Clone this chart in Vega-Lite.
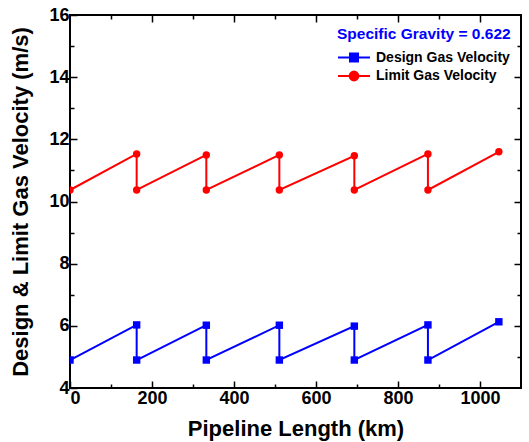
{
  "$schema": "https://vega.github.io/schema/vega-lite/v6.json",
  "width": 451,
  "height": 373,
  "autosize": {"type": "none"},
  "padding": {"left": 70, "top": 15, "right": 8, "bottom": 54},
  "background": "white",
  "data": {
    "values": [
      {"series": "Design Gas Velocity", "km": 0, "v": 4.9, "order": 0},
      {"series": "Design Gas Velocity", "km": 162.6, "v": 6.03, "order": 1},
      {"series": "Design Gas Velocity", "km": 162.6, "v": 4.9, "order": 2},
      {"series": "Design Gas Velocity", "km": 332.5, "v": 6.02, "order": 3},
      {"series": "Design Gas Velocity", "km": 332.5, "v": 4.9, "order": 4},
      {"series": "Design Gas Velocity", "km": 510.6, "v": 6.02, "order": 5},
      {"series": "Design Gas Velocity", "km": 510.6, "v": 4.9, "order": 6},
      {"series": "Design Gas Velocity", "km": 693.5, "v": 5.99, "order": 7},
      {"series": "Design Gas Velocity", "km": 693.5, "v": 4.9, "order": 8},
      {"series": "Design Gas Velocity", "km": 873, "v": 6.03, "order": 9},
      {"series": "Design Gas Velocity", "km": 873, "v": 4.9, "order": 10},
      {"series": "Design Gas Velocity", "km": 1046, "v": 6.13, "order": 11},
      {"series": "Limit Gas Velocity", "km": 0, "v": 10.37, "order": 0},
      {"series": "Limit Gas Velocity", "km": 162.6, "v": 11.53, "order": 1},
      {"series": "Limit Gas Velocity", "km": 162.6, "v": 10.37, "order": 2},
      {"series": "Limit Gas Velocity", "km": 332.5, "v": 11.5, "order": 3},
      {"series": "Limit Gas Velocity", "km": 332.5, "v": 10.37, "order": 4},
      {"series": "Limit Gas Velocity", "km": 510.6, "v": 11.5, "order": 5},
      {"series": "Limit Gas Velocity", "km": 510.6, "v": 10.37, "order": 6},
      {"series": "Limit Gas Velocity", "km": 693.5, "v": 11.47, "order": 7},
      {"series": "Limit Gas Velocity", "km": 693.5, "v": 10.37, "order": 8},
      {"series": "Limit Gas Velocity", "km": 873, "v": 11.53, "order": 9},
      {"series": "Limit Gas Velocity", "km": 873, "v": 10.37, "order": 10},
      {"series": "Limit Gas Velocity", "km": 1046, "v": 11.6, "order": 11}
    ]
  },
  "layer": [
    {
      "mark": {"type": "line", "strokeWidth": 2, "clip": true},
      "encoding": {
        "x": {"field": "km", "type": "quantitative", "scale": {"domain": [0, 1100], "nice": false, "zero": false},
              "axis": {"orient": "bottom", "title": "Pipeline Length (km)", "format": "d", "values": [0, 200, 400, 600, 800, 1000], "tickSize": -7, "labelPadding": 8, "titlePadding": 11}},
        "y": {"field": "v", "type": "quantitative", "scale": {"domain": [4, 16], "nice": false, "zero": false},
              "axis": {"orient": "left", "title": "Design & Limit Gas Velocity (m/s)", "format": "d", "values": [4, 6, 8, 10, 12, 14, 16], "tickSize": -7, "labelPadding": 8, "titlePadding": 16}},
        "color": {"field": "series", "type": "nominal",
                  "scale": {"domain": ["Design Gas Velocity", "Limit Gas Velocity"], "range": ["#0000ff", "#ff0000"]},
                  "legend": null},
        "order": {"field": "order", "type": "quantitative"}
      }
    },
    {
      "mark": {"type": "point", "filled": true, "opacity": 1, "size": 55, "clip": true},
      "encoding": {
        "x": {"field": "km", "type": "quantitative",
              "axis": {"orient": "bottom", "title": null, "labels": false, "values": [100, 300, 500, 700, 900], "tickSize": -4}},
        "y": {"field": "v", "type": "quantitative",
              "axis": {"orient": "left", "title": null, "labels": false, "values": [5, 7, 9, 11, 13, 15], "tickSize": -4}},
        "color": {"field": "series", "type": "nominal", "legend": null},
        "shape": {"field": "series", "type": "nominal", "scale": {"domain": ["Design Gas Velocity", "Limit Gas Velocity"], "range": ["square", "circle"]}, "legend": null}
      }
    },
    {
      "mark": {"type": "point", "opacity": 0, "filled": true, "strokeWidth": 2},
      "encoding": {
        "x": {"field": "km", "type": "quantitative",
              "axis": {"orient": "top", "title": null, "labels": false, "values": [200, 400, 600, 800, 1000], "tickSize": -7}},
        "y": {"field": "v", "type": "quantitative",
              "axis": {"orient": "right", "title": null, "labels": false, "values": [6, 8, 10, 12, 14], "tickSize": -7}},
        "shape": {"field": "series", "type": "nominal",
                  "scale": {"domain": ["Design Gas Velocity", "Limit Gas Velocity"], "range": ["M-1,0H3M0.5,-0.5H1.5V0.5H0.5Z", "M-1,0H3M0.45,0A0.55,0.55,0,1,1,1.55,0A0.55,0.55,0,1,1,0.45,0Z"]},
                  "legend": {
                    "title": "Specific Gravity = 0.622",
                    "orient": "none", "legendX": 267, "legendY": 12,
                    "titleColor": "#0000ff", "titleFontSize": 15.5, "titleFont": "Liberation Sans", "titleFontWeight": "bold", "titlePadding": 6,
                    "labelFont": "Liberation Sans", "labelFontSize": 14, "labelFontWeight": "bold", "labelColor": "black", "labelOffset": 21,
                    "symbolSize": 256, "symbolStrokeWidth": 2, "symbolOpacity": 1, "rowPadding": 1.5
                  }},
        "fill": {"field": "series", "type": "nominal",
                 "scale": {"domain": ["Design Gas Velocity", "Limit Gas Velocity"], "range": ["#0000ff", "#ff0000"]},
                 "legend": {
                    "title": "Specific Gravity = 0.622",
                    "orient": "none", "legendX": 267, "legendY": 12,
                    "titleColor": "#0000ff", "titleFontSize": 15.5, "titleFont": "Liberation Sans", "titleFontWeight": "bold", "titlePadding": 6,
                    "labelFont": "Liberation Sans", "labelFontSize": 14, "labelFontWeight": "bold", "labelColor": "black", "labelOffset": 21,
                    "symbolSize": 256, "symbolStrokeWidth": 2, "symbolOpacity": 1, "rowPadding": 1.5
                  }},
        "stroke": {"field": "series", "type": "nominal",
                 "scale": {"domain": ["Design Gas Velocity", "Limit Gas Velocity"], "range": ["#0000ff", "#ff0000"]},
                 "legend": {
                    "title": "Specific Gravity = 0.622",
                    "orient": "none", "legendX": 267, "legendY": 12,
                    "titleColor": "#0000ff", "titleFontSize": 15.5, "titleFont": "Liberation Sans", "titleFontWeight": "bold", "titlePadding": 6,
                    "labelFont": "Liberation Sans", "labelFontSize": 14, "labelFontWeight": "bold", "labelColor": "black", "labelOffset": 21,
                    "symbolSize": 256, "symbolStrokeWidth": 2, "symbolOpacity": 1, "rowPadding": 1.5
                  }}
      }
    },
    {
      "mark": {"type": "point", "opacity": 0},
      "encoding": {
        "x": {"field": "km", "type": "quantitative",
              "axis": {"orient": "top", "title": null, "labels": false, "values": [100, 300, 500, 700, 900], "tickSize": -4}},
        "y": {"field": "v", "type": "quantitative",
              "axis": {"orient": "right", "title": null, "labels": false, "values": [5, 7, 9, 11, 13, 15], "tickSize": -4}}
      }
    }
  ],
  "resolve": {"scale": {"x": "shared", "y": "shared", "shape": "independent", "fill": "independent", "stroke": "independent"}, "axis": {"x": "independent", "y": "independent"}},
  "config": {
    "view": {"stroke": "black", "strokeWidth": 2},
    "axis": {
      "domain": false, "grid": false, "tickColor": "black", "tickWidth": 1.5,
      "labelFont": "Liberation Sans", "labelFontSize": 18, "labelFontWeight": "bold", "labelColor": "black",
      "titleFont": "Liberation Sans", "titleFontSize": 22, "titleFontWeight": "bold", "titleColor": "black"
    }
  }
}
